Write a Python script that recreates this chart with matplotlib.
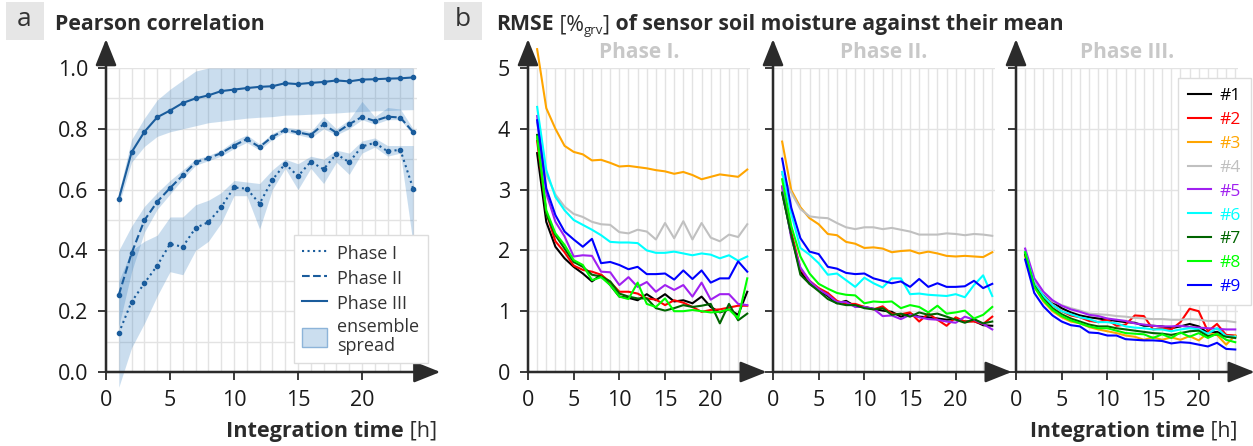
import numpy as np
import matplotlib
matplotlib.use("Agg")
import matplotlib.pyplot as plt
from matplotlib.lines import Line2D
from matplotlib.patches import Patch, Rectangle

plt.rcParams['font.family'] = ['Open Sans', 'DejaVu Sans']

W, H = 1253, 446

hours = np.arange(1, 25)

# --- panel a: Pearson correlation (mean and ensemble spread per phase)
r_phase1 = [0.128, 0.231, 0.292, 0.350, 0.421, 0.412, 0.474, 0.493, 0.542, 0.607, 0.603, 0.554,
            0.632, 0.685, 0.644, 0.692, 0.667, 0.717, 0.690, 0.742, 0.754, 0.726, 0.731, 0.603]
r_phase1_lo = [-0.05, 0.08, 0.16, 0.25, 0.33, 0.32, 0.40, 0.43, 0.49, 0.58, 0.58, 0.47,
               0.60, 0.67, 0.60, 0.67, 0.62, 0.69, 0.65, 0.72, 0.74, 0.71, 0.72, 0.42]
r_phase1_hi = [0.30, 0.40, 0.43, 0.45, 0.51, 0.51, 0.55, 0.565, 0.59, 0.63, 0.625, 0.62,
               0.665, 0.70, 0.685, 0.71, 0.70, 0.73, 0.72, 0.76, 0.77, 0.745, 0.745, 0.745]

r_phase2 = [0.254, 0.391, 0.499, 0.560, 0.605, 0.647, 0.690, 0.703, 0.720, 0.745, 0.766, 0.740,
            0.774, 0.797, 0.788, 0.780, 0.815, 0.787, 0.815, 0.839, 0.826, 0.840, 0.837, 0.789]
r_phase2_lo = [0.15, 0.33, 0.46, 0.535, 0.585, 0.635, 0.68, 0.695, 0.71, 0.735, 0.755, 0.73,
               0.765, 0.79, 0.78, 0.77, 0.80, 0.78, 0.80, 0.83, 0.815, 0.83, 0.83, 0.78]
r_phase2_hi = [0.40, 0.48, 0.545, 0.59, 0.63, 0.665, 0.70, 0.712, 0.73, 0.76, 0.78, 0.75,
               0.785, 0.805, 0.80, 0.79, 0.84, 0.80, 0.83, 0.89, 0.84, 0.87, 0.865, 0.80]

r_phase3 = [0.569, 0.723, 0.790, 0.838, 0.860, 0.885, 0.900, 0.910, 0.924, 0.929, 0.934, 0.938,
            0.940, 0.950, 0.947, 0.951, 0.954, 0.959, 0.956, 0.962, 0.963, 0.965, 0.966, 0.969]
r_phase3_lo = [0.55, 0.69, 0.742, 0.775, 0.79, 0.80, 0.81, 0.82, 0.825, 0.83, 0.835, 0.838,
               0.84, 0.845, 0.846, 0.848, 0.85, 0.852, 0.855, 0.857, 0.859, 0.86, 0.862, 0.863]
r_phase3_hi = [0.59, 0.765, 0.835, 0.895, 0.93, 0.96, 0.99, 1.0, 1.0, 1.0, 1.0, 1.0,
               1.0, 1.0, 1.0, 1.0, 1.0, 1.0, 1.0, 1.0, 1.0, 1.0, 1.0, 1.0]

# --- panel b: RMSE of sensors #1..#9 per phase
sensor_names = ['#1', '#2', '#3', '#4', '#5', '#6', '#7', '#8', '#9']
sensor_colors = ['#000000', '#ff0000', '#ffa500', '#c0c0c0', '#a020f0',
                 '#00ffff', '#006400', '#00ff00', '#0000ff']

rmse_phase1 = [
    [3.60, 2.47, 2.06, 1.87, 1.73, 1.62, 1.49, 1.60, 1.43, 1.24, 1.22, 1.18, 1.28, 1.18, 1.28, 1.16, 1.18, 1.13, 1.24, 1.07, 0.98, 1.03, 0.94, 1.32],
    [3.80, 2.62, 2.15, 1.97, 1.75, 1.68, 1.65, 1.60, 1.48, 1.32, 1.32, 1.29, 1.21, 1.19, 1.10, 1.18, 1.14, 1.07, 0.99, 1.02, 1.03, 1.06, 1.09, 1.09],
    [5.31, 4.34, 4.00, 3.72, 3.62, 3.58, 3.48, 3.49, 3.44, 3.38, 3.39, 3.37, 3.35, 3.32, 3.30, 3.26, 3.29, 3.24, 3.17, 3.21, 3.25, 3.23, 3.21, 3.33],
    [4.10, 3.25, 2.92, 2.72, 2.60, 2.55, 2.47, 2.43, 2.42, 2.30, 2.28, 2.34, 2.31, 2.18, 2.45, 2.20, 2.48, 2.18, 2.45, 2.21, 2.15, 2.26, 2.22, 2.43],
    [4.21, 2.94, 2.47, 2.23, 1.90, 1.92, 1.91, 1.65, 1.64, 1.43, 1.56, 1.40, 1.48, 1.32, 1.43, 1.35, 1.43, 1.24, 1.47, 1.19, 1.28, 1.28, 1.12, 1.10],
    [4.36, 3.32, 2.88, 2.66, 2.50, 2.42, 2.34, 2.25, 2.14, 2.13, 2.13, 2.12, 2.00, 1.96, 1.96, 1.98, 1.95, 1.92, 1.95, 1.93, 1.87, 1.92, 1.83, 1.90],
    [3.90, 2.60, 2.25, 2.03, 1.81, 1.73, 1.60, 1.57, 1.49, 1.29, 1.24, 1.21, 1.21, 1.05, 1.01, 1.05, 1.10, 1.07, 1.09, 1.12, 0.80, 1.12, 0.85, 0.96],
    [3.87, 2.66, 2.28, 2.09, 1.84, 1.76, 1.51, 1.56, 1.43, 1.24, 1.20, 1.47, 1.12, 1.07, 1.21, 1.00, 1.00, 1.02, 1.00, 0.98, 0.99, 1.03, 0.88, 1.54],
    [4.14, 3.02, 2.58, 2.31, 2.18, 2.06, 2.19, 1.79, 1.81, 1.76, 1.69, 1.73, 1.61, 1.61, 1.62, 1.52, 1.67, 1.53, 1.67, 1.47, 1.54, 1.54, 1.82, 1.65],
]
rmse_phase2 = [
    [2.95, 2.25, 1.65, 1.45, 1.35, 1.25, 1.13, 1.17, 1.08, 1.07, 1.04, 1.01, 0.99, 0.91, 0.96, 0.91, 0.90, 0.88, 0.86, 0.87, 0.83, 0.84, 0.77, 0.76],
    [3.05, 2.30, 1.70, 1.50, 1.38, 1.30, 1.17, 1.12, 1.12, 1.07, 1.03, 1.08, 0.96, 0.95, 0.98, 0.83, 0.96, 0.86, 0.76, 0.90, 0.83, 0.83, 0.79, 0.91],
    [3.79, 2.99, 2.71, 2.53, 2.43, 2.27, 2.25, 2.14, 2.11, 2.04, 2.05, 2.03, 1.97, 1.99, 2.00, 1.95, 1.98, 1.95, 1.91, 1.90, 1.91, 1.90, 1.89, 1.97],
    [3.25, 2.95, 2.68, 2.56, 2.54, 2.53, 2.45, 2.38, 2.35, 2.38, 2.38, 2.35, 2.37, 2.34, 2.31, 2.26, 2.26, 2.26, 2.28, 2.27, 2.25, 2.27, 2.26, 2.24],
    [3.05, 2.20, 1.72, 1.50, 1.36, 1.27, 1.15, 1.15, 1.07, 1.07, 1.04, 0.92, 0.93, 0.87, 0.94, 0.90, 0.87, 0.86, 0.83, 0.81, 0.91, 0.86, 0.79, 0.70],
    [3.29, 2.60, 2.04, 1.93, 1.79, 1.60, 1.62, 1.51, 1.40, 1.55, 1.46, 1.39, 1.54, 1.54, 1.28, 1.29, 1.27, 1.26, 1.25, 1.28, 1.23, 1.43, 1.59, 1.25],
    [2.95, 2.25, 1.60, 1.45, 1.33, 1.20, 1.13, 1.10, 1.10, 1.05, 1.03, 1.05, 0.94, 0.96, 0.91, 0.98, 0.94, 0.96, 0.91, 0.86, 0.81, 0.87, 0.80, 0.83],
    [3.17, 2.40, 1.90, 1.62, 1.45, 1.37, 1.30, 1.27, 1.26, 1.13, 1.16, 1.15, 1.16, 1.05, 1.10, 1.07, 0.98, 1.09, 0.96, 0.98, 1.01, 0.88, 0.94, 1.07],
    [3.51, 2.70, 2.20, 1.98, 1.94, 1.73, 1.70, 1.63, 1.61, 1.62, 1.54, 1.50, 1.46, 1.49, 1.40, 1.53, 1.40, 1.46, 1.40, 1.40, 1.41, 1.50, 1.38, 1.45],
]
rmse_phase3 = [
    [1.95, 1.48, 1.28, 1.15, 1.05, 0.98, 0.93, 0.90, 0.88, 0.86, 0.84, 0.82, 0.81, 0.76, 0.76, 0.75, 0.72, 0.75, 0.79, 0.75, 0.64, 0.66, 0.60, 0.59],
    [1.95, 1.45, 1.24, 1.10, 1.00, 0.93, 0.90, 0.84, 0.82, 0.86, 0.76, 0.78, 0.93, 0.92, 0.70, 0.72, 0.70, 0.82, 1.04, 1.00, 0.67, 0.79, 0.61, 0.60],
    [1.90, 1.40, 1.16, 1.00, 0.90, 0.83, 0.80, 0.74, 0.70, 0.67, 0.64, 0.60, 0.58, 0.53, 0.57, 0.53, 0.57, 0.53, 0.59, 0.52, 0.64, 0.61, 0.45, 0.60],
    [1.98, 1.50, 1.30, 1.16, 1.10, 1.05, 1.01, 0.96, 0.95, 0.94, 0.92, 0.91, 0.89, 0.88, 0.87, 0.87, 0.86, 0.86, 0.87, 0.86, 0.84, 0.84, 0.84, 0.82],
    [2.03, 1.54, 1.32, 1.18, 1.09, 1.03, 0.99, 0.94, 0.92, 0.88, 0.86, 0.84, 0.80, 0.78, 0.76, 0.75, 0.75, 0.76, 0.74, 0.73, 0.72, 0.71, 0.70, 0.70],
    [1.97, 1.45, 1.25, 1.10, 1.00, 0.95, 0.90, 0.87, 0.82, 0.82, 0.80, 0.75, 0.73, 0.72, 0.70, 0.70, 0.67, 0.70, 0.72, 0.70, 0.63, 0.72, 0.59, 0.58],
    [1.93, 1.42, 1.20, 1.05, 0.95, 0.88, 0.83, 0.78, 0.75, 0.75, 0.72, 0.70, 0.68, 0.66, 0.64, 0.63, 0.61, 0.64, 0.67, 0.68, 0.59, 0.62, 0.58, 0.56],
    [1.97, 1.40, 1.18, 1.02, 0.92, 0.85, 0.80, 0.75, 0.72, 0.72, 0.68, 0.64, 0.63, 0.62, 0.56, 0.62, 0.56, 0.65, 0.58, 0.64, 0.56, 0.63, 0.53, 0.49],
    [1.85, 1.30, 1.08, 0.93, 0.83, 0.77, 0.75, 0.65, 0.64, 0.60, 0.60, 0.54, 0.53, 0.52, 0.52, 0.51, 0.47, 0.49, 0.48, 0.45, 0.42, 0.48, 0.38, 0.37],
]
phase_titles = ['Phase I.', 'Phase II.', 'Phase III.']

ticks_a_y = [0.0, 0.2, 0.4, 0.6, 0.8, 1.0]
ticks_b_y = [0, 1, 2, 3, 4, 5]
ticks_x = [0, 5, 10, 15, 20]

blue = '#1a5c9c'
band = '#2f7bbf'
dark = '#2b2b2b'
gridc = '#e3e3e3'

fig = plt.figure(figsize=(W / 100, H / 100), dpi=100)


def px_axes(left, width):
    # axes box in pixels -> figure fraction; y from 372 (value 0) to 68 (top)
    return fig.add_axes([left / W, (H - 372) / H, width / W, 304 / H])


def style_axes(ax, yminor_step=None, ytop=1.0):
    for s in ax.spines.values():
        s.set_visible(False)
    ax.set_xlim(0, 24.3)
    ax.set_xticks(ticks_x)
    ax.set_xticks(hours, minor=True)
    if yminor_step:
        ax.set_yticks(np.arange(yminor_step, ytop + 0.001, yminor_step), minor=True)
    ax.tick_params(which='major', direction='out', length=6, width=1.3, color=dark,
                   labelsize=15.5, pad=7, labelcolor='#1a1a1a')
    ax.tick_params(which='minor', length=0)
    ax.grid(True, which='both', color=gridc, lw=1.0)
    ax.set_axisbelow(True)
    kw = dict(arrowstyle='-|>,head_length=1.25,head_width=0.5', color=dark, lw=1.8,
              mutation_scale=13, shrinkA=0, shrinkB=0)
    ax.annotate('', xy=(1.075, 0), xytext=(0, 0), xycoords='axes fraction',
                arrowprops=kw, annotation_clip=False)
    ax.annotate('', xy=(0, 1.095), xytext=(0, 0), xycoords='axes fraction',
                arrowprops=kw, annotation_clip=False)


# ---------- panel a
axa = px_axes(106, 311)
axa.set_ylim(0, 1.0)
style_axes(axa, yminor_step=0.1, ytop=1.0)
axa.set_yticks(ticks_a_y)
axa.set_yticklabels(['%.1f' % v for v in ticks_a_y])

for lo, hi in [(r_phase1_lo, r_phase1_hi), (r_phase2_lo, r_phase2_hi), (r_phase3_lo, r_phase3_hi)]:
    axa.fill_between(hours, lo, hi, color=band, alpha=0.25, lw=0, clip_on=False, zorder=1)
for vals, ls in [(r_phase1, ':'), (r_phase2, '--'), (r_phase3, '-')]:
    axa.plot(hours, vals, ls=ls, color=blue, lw=1.5, marker='o', ms=3, zorder=3)

handles = [Line2D([], [], color=blue, ls=':', lw=1.5),
           Line2D([], [], color=blue, ls='--', lw=1.5),
           Line2D([], [], color=blue, ls='-', lw=1.5),
           Patch(facecolor='#cbdeef', edgecolor='#8db4d9')]
lega = axa.legend(handles, ['Phase I', 'Phase II', 'Phase III', 'ensemble\nspread'],
                  loc='upper left', bbox_to_anchor=(294 / W, 1 - 235 / H),
                  bbox_transform=fig.transFigure, borderaxespad=0, fontsize=13,
                  frameon=True, fancybox=False, edgecolor='#dddddd', framealpha=1,
                  handlelength=1.4, handleheight=1.25, handletextpad=0.55,
                  labelspacing=0.3, borderpad=0.45)
lega.get_frame().set_linewidth(1.0)
for t in lega.get_texts():
    t.set_color('#333333')
    t.set_linespacing(1.05)

# ---------- panel b
lefts = [528, 773, 1016]
axes_b = []
for i, (left, data, title) in enumerate(zip(lefts, [rmse_phase1, rmse_phase2, rmse_phase3], phase_titles)):
    ax = px_axes(left, 222)
    ax.set_ylim(0, 5)
    style_axes(ax)
    ax.set_yticks(ticks_b_y)
    if i > 0:
        ax.set_yticklabels([])
    for vals, c in zip(data, sensor_colors):
        ax.plot(hours, vals, color=c, lw=1.5, clip_on=False, zorder=3)
    fig.text((left + 111) / W, 1 - 53 / H, title, ha='center', va='center',
             fontsize=15, fontweight='bold', color='#c8c8c8')
    axes_b.append(ax)

handles_b = [Line2D([], [], color=c, lw=1.5) for c in sensor_colors]
legb = axes_b[2].legend(handles_b, sensor_names, loc='upper left',
                        bbox_to_anchor=(1178 / W, 1 - 78 / H), bbox_transform=fig.transFigure,
                        borderaxespad=0, fontsize=12.5, frameon=True, fancybox=False,
                        edgecolor='#dddddd', framealpha=1, handlelength=1.35,
                        handletextpad=0.5, labelspacing=0.45, borderpad=0.55)
legb.get_frame().set_linewidth(1.0)
for t, c in zip(legb.get_texts(), sensor_colors):
    t.set_color(c)

# ---------- titles and labels
fig.patches.append(Rectangle((6 / W, 1 - 40 / H), 38 / W, 38 / H, transform=fig.transFigure,
                             facecolor='#e6e6e6', edgecolor='none'))
fig.patches.append(Rectangle((444 / W, 1 - 40 / H), 38 / W, 38 / H, transform=fig.transFigure,
                             facecolor='#e6e6e6', edgecolor='none'))
fig.text(24 / W, 1 - 20 / H, 'a', ha='center', va='center', fontsize=19, color='#333333')
fig.text(463 / W, 1 - 20 / H, 'b', ha='center', va='center', fontsize=19, color='#333333')

renderer = fig.canvas.get_renderer()


def rich(x, y, pieces):
    for s, size, weight, dy in pieces:
        t = fig.text(x / W, 1 - (y + dy) / H, s, fontsize=size, fontweight=weight,
                     color='#2b2b2b', va='baseline', ha='left')
        x += t.get_window_extent(renderer=renderer).width


rich(55, 30, [('Pearson correlation', 15.3, 'bold', 0)])
rich(496, 30, [('RMSE', 15.3, 'bold', 0), (' [%', 15.3, 'normal', 0), ('grv', 9.5, 'normal', 4),
               (']', 15.3, 'normal', 0), (' of sensor soil moisture against their mean', 15.3, 'bold', 0)])
rich(226, 437, [('Integration time', 15.6, 'bold', 0), (' [h]', 15.6, 'normal', 0)])
rich(1030, 437, [('Integration time', 15.3, 'bold', 0), (' [h]', 15.3, 'normal', 0)])

fig.savefig('out.png', dpi=100)
